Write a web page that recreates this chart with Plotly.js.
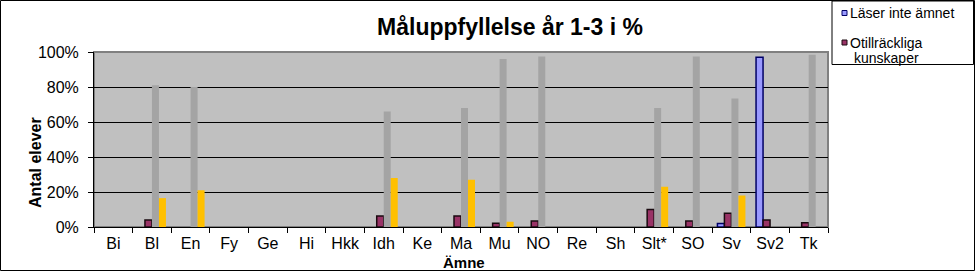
<!DOCTYPE html>
<html>
<head>
<meta charset="utf-8">
<script src="https://cdn.plot.ly/plotly-3.0.1.min.js"></script>
<style>
  html, body { margin: 0; padding: 0; background: #ffffff; }
  #chart { width: 975px; height: 271px; }
</style>
</head>
<body>
<div id="chart"></div>
<script>
// ---- data (percent of pupils) ----
const categories = ['Bi','Bl','En','Fy','Ge','Hi','Hkk','Idh','Ke','Ma','Mu','NO','Re','Sh','Slt*','SO','Sv','Sv2','Tk'];
const seriesNames = ['Läser inte ämnet', 'Otillräckliga kunskaper', 'Godkänd', 'Väl godkänd'];
const laserInte     = [null,null,null,null,null,null,null,null,null,null,null,null,null,null,null,null,2,97,null];
const otillrackliga = [null,4,null,null,null,null,null,6.3,null,6.3,2.1,3.4,null,null,10,3.4,7.8,4,2.5];
const godkand       = [null,81,80,null,null,null,null,66,null,68,96,97.5,null,null,68,97.5,73.5,null,98.5];
const valGodkand    = [null,16.5,21,null,null,null,null,28,null,27,3,null,null,null,23,null,18,null,null];
const yTickVals = [0,20,40,60,80,100];
const yTickText = ['0%','20%','40%','60%','80%','100%'];

// ---- layout geometry ----
const W = 975, H = 271;
const L = 94, R = 147, T = 52, B = 44;
const PW = W - L - R, PH = H - T - B;
const px2x = p => (p - L) / PW;
const px2y = p => (H - B - p) / PH;
const FONT = 'Liberation Sans, Arial, sans-serif';

const traces = [
  { type: 'bar', name: seriesNames[0], x: categories, y: laserInte,
    marker: { color: '#9999ff', line: { color: '#000066', width: 1.5 } } },
  { type: 'bar', name: seriesNames[1], x: categories, y: otillrackliga,
    marker: { color: '#993366', line: { color: '#1a0a10', width: 1.5 } } },
  { type: 'bar', name: seriesNames[2], x: categories, y: godkand,
    marker: { color: '#a4a4a4', line: { width: 0 } } },
  { type: 'bar', name: seriesNames[3], x: categories, y: valGodkand,
    marker: { color: '#ffc000', line: { width: 0 } } }
];

const shapes = [
  { type: 'rect', xref: 'paper', yref: 'paper', x0: 0, x1: 1, y0: 0, y1: 1,
    line: { color: '#808080', width: 2 }, layer: 'below' },
  { type: 'rect', xref: 'paper', yref: 'paper',
    x0: px2x(0.5), x1: px2x(974.5), y0: px2y(270.5), y1: px2y(0.5),
    line: { color: '#000000', width: 1 } },
  { type: 'rect', xref: 'paper', yref: 'paper',
    x0: px2x(832), x1: px2x(973.5), y0: px2y(64.5), y1: px2y(1),
    fillcolor: '#ffffff', line: { color: '#000000', width: 1 } },
  { type: 'rect', xref: 'paper', yref: 'paper',
    x0: px2x(842), x1: px2x(847), y0: px2y(15.5), y1: px2y(10.5),
    fillcolor: '#9999ff', line: { color: '#000066', width: 1 } },
  { type: 'rect', xref: 'paper', yref: 'paper',
    x0: px2x(842), x1: px2x(847), y0: px2y(45), y1: px2y(40),
    fillcolor: '#993366', line: { color: '#1a0a10', width: 1 } }
];

const annotations = [
  { text: seriesNames[0], xref: 'paper', yref: 'paper', x: px2x(848), y: px2y(13),
    xanchor: 'left', yanchor: 'middle', showarrow: false,
    font: { family: FONT, size: 14, color: '#000' } },
  { text: 'Otillräckliga', xref: 'paper', yref: 'paper', x: px2x(848), y: px2y(43),
    xanchor: 'left', yanchor: 'middle', showarrow: false,
    font: { family: FONT, size: 14, color: '#000' } },
  { text: 'kunskaper', xref: 'paper', yref: 'paper', x: px2x(852), y: px2y(57.5),
    xanchor: 'left', yanchor: 'middle', showarrow: false,
    font: { family: FONT, size: 14, color: '#000' } },
  { text: '<b>Ämne</b>', xref: 'paper', yref: 'paper', x: px2x(464), y: px2y(262),
    xanchor: 'center', yanchor: 'middle', showarrow: false,
    font: { family: FONT, size: 15, color: '#000' } },
  { text: '<b>Antal elever</b>', xref: 'paper', yref: 'paper', x: px2x(35), y: px2y(163),
    xanchor: 'center', yanchor: 'middle', showarrow: false, textangle: -90,
    font: { family: FONT, size: 16, color: '#000' } }
];

const layout = {
  width: W, height: H,
  margin: { l: L, r: R, t: T, b: B, pad: 0 },
  paper_bgcolor: '#ffffff',
  plot_bgcolor: '#c0c0c0',
  showlegend: false,
  barmode: 'group',
  bargap: 0.275,
  bargroupgap: 0,
  title: {
    text: 'Måluppfyllelse år 1-3 i %',
    font: { family: FONT, size: 23, color: '#000', weight: 'bold' },
    xref: 'container', yref: 'container',
    x: 510 / W, xanchor: 'center',
    y: 1 - 27 / H, yanchor: 'middle'
  },
  xaxis: {
    type: 'category',
    categoryorder: 'array', categoryarray: categories,
    showgrid: false, zeroline: false,
    showline: true, linecolor: '#000', linewidth: 1,
    ticks: 'outside', tickson: 'boundaries', ticklen: 5, tickcolor: '#000', tickwidth: 1,
    ticklabelstandoff: 2,
    tickfont: { family: FONT, size: 16, color: '#000' },
    fixedrange: true
  },
  yaxis: {
    range: [0, 100],
    tickvals: yTickVals, ticktext: yTickText,
    showgrid: true, gridcolor: '#000000', gridwidth: 1,
    zeroline: false,
    showline: true, linecolor: '#000', linewidth: 1,
    ticks: 'outside', ticklen: 5, tickcolor: '#000', tickwidth: 1,
    ticklabelstandoff: 6,
    tickfont: { family: FONT, size: 16, color: '#000' },
    fixedrange: true
  },
  shapes: shapes,
  annotations: annotations
};

Plotly.newPlot('chart', traces, layout, { displayModeBar: false, staticPlot: true });
</script>
</body>
</html>
